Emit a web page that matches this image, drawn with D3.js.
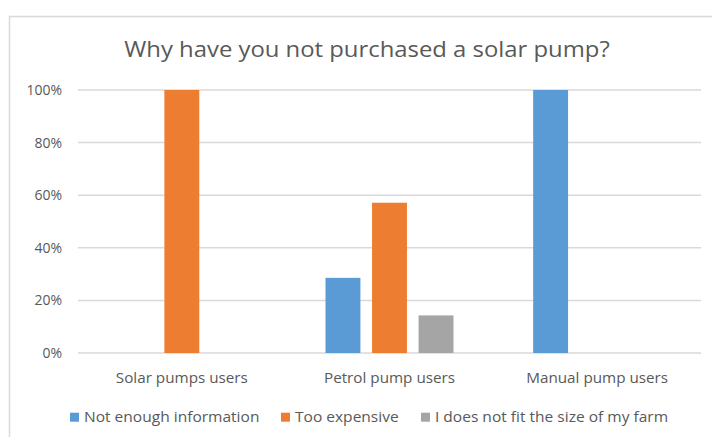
<!DOCTYPE html>
<html>
<head>
<meta charset="utf-8">
<script src="https://cdn.jsdelivr.net/npm/d3@7/dist/d3.min.js"></script>
<style>
  html, body { margin: 0; padding: 0; background: #fff; }
  svg { display: block; font-family: "Open Sans", sans-serif; }
</style>
</head>
<body>
<svg id="chart" width="712" height="437"></svg>
<script>
// Survey answers, share of respondents per pump type
const categories = ["Solar pumps users", "Petrol pump users", "Manual pump users"];
const seriesNames = ["Not enough information", "Too expensive", "I does not fit the size of my farm"];
const notEnoughInfo = [0, 0.2857, 1];
const tooExpensive = [1, 0.5714, 0];
const doesNotFit = [0, 0.1429, 0];
const seriesColors = ["#5b9bd5", "#ed7d31", "#a5a5a5"];
const yTicks = [0, 0.2, 0.4, 0.6, 0.8, 1];
const titleText = "Why have you not purchased a solar pump?";

const seriesValues = [notEnoughInfo, tooExpensive, doesNotFit];
const FONT = "Open Sans, sans-serif";
const TEXT_COLOR = "#595959";

const svg = d3.select("#chart");
const W = 712, H = 437;
const plot = { left: 78, right: 701, top: 90, bottom: 353 };

svg.append("rect").attr("width", W).attr("height", H).attr("fill", "#fff");
// chart frame (only top and left edges fall inside the view)
svg.append("rect")
  .attr("x", 9.5).attr("y", 16.5)
  .attr("width", W + 20).attr("height", H + 20)
  .attr("fill", "none").attr("stroke", "#d9d9d9").attr("stroke-width", 1.5);

// title (slightly widened lettering)
svg.append("text")
  .attr("transform", "translate(367,57.3) scale(1.085,1)")
  .attr("text-anchor", "middle")
  .attr("fill", TEXT_COLOR)
  .attr("font-size", 22)
  .text(titleText);

const x0 = d3.scaleBand().domain(categories).range([plot.left, plot.right]).paddingInner(0).paddingOuter(0);
const x1 = d3.scaleBand().domain(d3.range(seriesNames.length))
  .range([0, 128]).paddingInner(0.25).paddingOuter(0);
const y = d3.scaleLinear().domain([0, 1]).range([plot.bottom, plot.top]);

// gridlines
svg.append("g").selectAll("line").data(yTicks).join("line")
  .attr("x1", plot.left).attr("x2", plot.right)
  .attr("y1", d => y(d)).attr("y2", d => y(d))
  .attr("stroke", "#d9d9d9").attr("stroke-width", 1.5);

// y axis labels
const yAxis = d3.axisLeft(y).tickValues(yTicks).tickFormat(d3.format(".0%")).tickSize(0).tickPadding(0);
const gy = svg.append("g").attr("transform", `translate(62,0)`).call(yAxis);
gy.select(".domain").remove();
gy.selectAll("text").attr("fill", TEXT_COLOR).attr("font-size", 14).attr("font-family", FONT);

// bars
const groups = svg.append("g").selectAll("g").data(categories).join("g")
  .attr("transform", c => `translate(${x0(c) + x0.bandwidth() / 2 - 64},0)`);
groups.selectAll("rect")
  .data((c, ci) => seriesValues.map((vals, si) => ({ si, v: vals[ci] })))
  .join("rect")
  .filter(d => d.v > 0)
  .attr("x", d => x1(d.si))
  .attr("width", x1.bandwidth())
  .attr("y", d => y(d.v))
  .attr("height", d => y(0) - y(d.v))
  .attr("fill", d => seriesColors[d.si]);

// category axis labels
const xAxis = d3.axisBottom(x0).tickSize(0).tickPadding(0);
const gx = svg.append("g").attr("transform", `translate(0,382.5)`).call(xAxis);
gx.select(".domain").remove();
gx.selectAll("text")
  .attr("y", 0).attr("dy", 0)
  .attr("transform", "scale(1.09,1)")
  .attr("fill", TEXT_COLOR).attr("font-size", 14).attr("font-family", FONT);

// legend
const legendX = [70, 281, 421];
const lg = svg.append("g").selectAll("g").data(seriesNames).join("g")
  .attr("transform", (d, i) => `translate(${legendX[i]},412.7)`);
lg.append("rect").attr("width", 9).attr("height", 9).attr("fill", (d, i) => seriesColors[i]);
lg.append("text")
  .attr("transform", "translate(14,9.6) scale(1.11,1)")
  .attr("fill", TEXT_COLOR).attr("font-size", 14).text(d => d);
</script>
</body>
</html>
